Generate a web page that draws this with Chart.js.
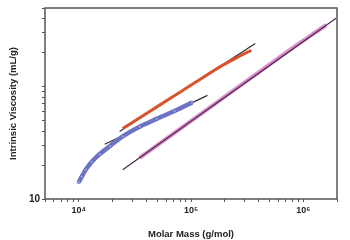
<!DOCTYPE html>
<html><head><meta charset="utf-8">
<script src="https://cdn.jsdelivr.net/npm/chart.js@4/dist/chart.umd.min.js"></script>
<style>html,body{margin:0;padding:0;background:#fff}#wrap{width:350px;height:240px}</style>
</head><body><div id="wrap"><canvas id="c"></canvas></div>
<script>
// Blue sample (M, [eta])
const blueM  = [10000, 10640, 11530, 13060, 15370, 18890, 24620, 34860, 49350, 71300, 102000];
const blueIV = [14.1, 15.8, 18.2, 21.4, 25.1, 29.5, 36.1, 44.0, 51.6, 60.7, 72.0];
const blueFitM  = [17010, 140200];
const blueFitIV = [30.7, 83.5];
// Red sample
const redM  = [24620, 34860, 52480, 79060, 119100, 179300, 269900, 345000];
const redIV = [42.3, 52.7, 68.4, 88.7, 115, 149, 186, 210];
const redFitM  = [23100, 374000];
const redFitIV = [39.8, 241.5];
// Magenta sample
const magM  = [34860, 64420, 119100, 219800, 406200, 751500, 1600000];
const magIV = [23.2, 36.1, 56.0, 86.9, 135, 210, 353];
const magFitM  = [24620, 1963000];
const magFitIV = [18.2, 406];
// Axes
const xTickValues = [5000,6000,7000,8000,9000,10000,20000,30000,40000,50000,60000,70000,80000,90000,100000,200000,300000,400000,500000,600000,700000,800000,900000,1000000,2000000];
const xTickLabels = {10000:'10\u2074',100000:'10\u2075',1000000:'10\u2076'};
const yTickValues = [10,20,30,40,50,60,70,80,90,100,200,300,400,500];
const yTickLabels = {10:'10'};

const pts = (xs, ys) => xs.map((x,i)=>({x:x, y:ys[i]}));

const frame = {
  id:'frame',
  afterDraw(chart){
    const a = chart.chartArea, ctx = chart.ctx;
    ctx.save(); ctx.strokeStyle='#555'; ctx.lineWidth=1.5;
    ctx.strokeRect(a.left, a.top, a.right-a.left, a.bottom-a.top);
    ctx.restore();
  }
};

new Chart(document.getElementById('c'), {
  type:'line',
  data:{datasets:[
    {data:pts(magFitM, magFitIV), borderColor:'#4a2850', borderWidth:1.2, pointRadius:0, order:1},
    {data:pts(magM, magIV), borderColor:'rgba(218,130,196,0.9)', borderWidth:4, pointRadius:0, order:2},
    {data:pts(redM, redIV), borderColor:'#d9542c', borderWidth:3, pointRadius:0, order:3},
    {data:pts(redFitM, redFitIV), borderColor:'#333', borderWidth:1.3, pointRadius:0, order:4},
    {data:pts(blueM, blueIV), borderColor:'#6d74c6', borderWidth:4.5, pointRadius:1.6, pointBorderColor:'#5a62bc', pointBackgroundColor:'#9aa0dc', pointBorderWidth:0.6, order:5},
    {data:pts(blueFitM, blueFitIV), borderColor:'#333', borderWidth:1.3, pointRadius:0, order:6}
  ]},
  options:{
    responsive:true, maintainAspectRatio:false, animation:false,
    layout:{padding:{top:4, right:13, left:0, bottom:0}},
    plugins:{legend:{display:false}, tooltip:{enabled:false}},
    elements:{line:{tension:0.3}},
    scales:{
      x:{type:'logarithmic', min:5000, max:2000000,
        afterBuildTicks(s){ s.ticks = xTickValues.map(v=>({value:v})); },
        afterFit(s){ s.height = 41; },
        grid:{drawOnChartArea:false, tickLength:3, color:'#555', tickWidth:1},
        border:{display:false},
        ticks:{autoSkip:false, maxRotation:0, padding:3, color:'#222', font:{family:'Liberation Sans', size:9, weight:'bold'},
          callback:(v)=> xTickLabels[v] || ''},
        title:{display:true, text:'Molar Mass (g/mol)', color:'#222', font:{family:'Liberation Sans', size:9.5, weight:'bold'}, padding:{top:4,bottom:0}}
      },
      y:{type:'logarithmic', min:10, max:500,
        afterBuildTicks(s){ s.ticks = yTickValues.map(v=>({value:v})); },
        afterFit(s){ s.width = 45; },
        grid:{drawOnChartArea:false, tickLength:3, color:'#555', tickWidth:1},
        border:{display:false},
        ticks:{autoSkip:false, padding:2, color:'#222', font:{family:'Liberation Sans', size:10, weight:'bold'},
          callback:(v)=> yTickLabels[v] || ''},
        title:{display:true, text:'Intrinsic Viscosity (mL/g)', color:'#222', font:{family:'Liberation Sans', size:9.5, weight:'bold'}, padding:{top:8,bottom:0}}
      }
    }
  },
  plugins:[frame]
});
</script></body></html>
